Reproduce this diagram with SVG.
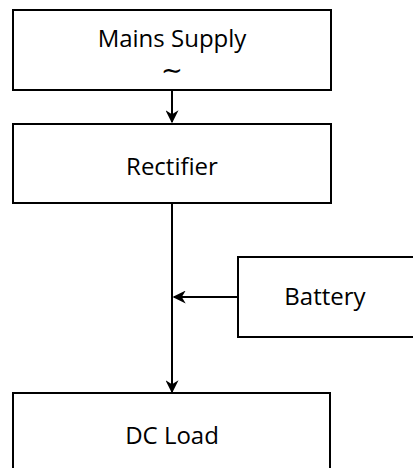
<svg xmlns="http://www.w3.org/2000/svg" width="413" height="468" viewBox="0 0 413 468">
<style>
.box{fill:#fff;stroke:#000;stroke-width:2}
.lbl{font-family:"Open Sans","Liberation Sans",sans-serif;font-size:24px;fill:#000;text-anchor:middle}
.wire{stroke:#000;stroke-width:2;fill:none}
</style>
<defs>
<marker id="ah" viewBox="0 0 10 10" refX="9" refY="5" markerWidth="6.5" markerHeight="6.5" orient="auto" markerUnits="strokeWidth">
<path d="M0,0 L10,5 L0,10 L3,5 Z" fill="#000"/>
</marker>
</defs>
<g id="connectors">
<line class="wire" x1="172" y1="91" x2="172" y2="122" marker-end="url(#ah)"/>
<line class="wire" x1="172" y1="204" x2="172" y2="392" marker-end="url(#ah)"/>
<line class="wire" x1="238" y1="297" x2="174" y2="297" marker-end="url(#ah)"/>
</g>
<g id="mains">
<rect class="box" x="13" y="10" width="318" height="80"/>
<text class="lbl" x="172" y="47">Mains Supply</text>
<text class="lbl" x="172" y="79" style="font-family:'DejaVu Sans',sans-serif;font-size:26px">∼</text>
</g>
<g id="rectifier">
<rect class="box" x="13" y="124" width="318" height="79"/>
<text class="lbl" x="172" y="175">Rectifier</text>
</g>
<g id="battery">
<rect class="box" x="238" y="257" width="180" height="80"/>
<text class="lbl" x="325" y="305">Battery</text>
</g>
<g id="dcload">
<rect class="box" x="13" y="393" width="317" height="90"/>
<text class="lbl" x="172" y="444">DC Load</text>
</g>
</svg>
